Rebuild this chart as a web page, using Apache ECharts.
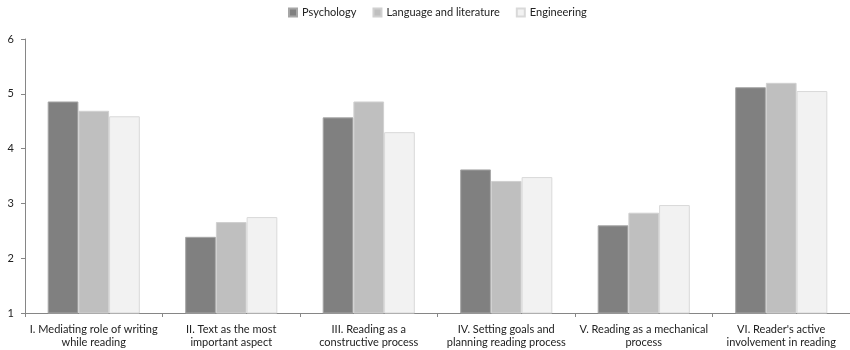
<!DOCTYPE html>
<html>
<head>
<meta charset="utf-8">
<script src="https://cdn.jsdelivr.net/npm/echarts@6/dist/echarts.min.js"></script>
<style>
  html, body { margin: 0; padding: 0; background: #fff; }
  #chart { width: 850px; height: 350px; }
</style>
</head>
<body>
<div id="chart"></div>
<script>
// Mean scores per reading-conception factor, by field of study
const categories = [
  "I. Mediating role of writing\nwhile reading",
  "II. Text as the most\nimportant aspect",
  "III. Reading as a\nconstructive process",
  "IV. Setting goals and\nplanning reading process",
  "V. Reading as a mechanical\nprocess",
  "VI. Reader's active\ninvolvement in reading"
];
const psychology = [4.86, 2.39, 4.57, 3.62, 2.60, 5.12];
const languageLiterature = [4.69, 2.66, 4.86, 3.41, 2.83, 5.20];
const engineering = [4.59, 2.75, 4.30, 3.48, 2.97, 5.05];
const seriesNames = ["Psychology", "Language and literature", "Engineering"];

const font = "Lato, 'Open Sans', sans-serif";
const axisGray = "#868686";

const chart = echarts.init(document.getElementById("chart"), null, { renderer: "canvas" });
chart.setOption({
  animation: false,
  textStyle: { fontFamily: font },
  legend: {
    top: 5,
    left: 288,
    padding: [2, 0, 2, 0],
    itemWidth: 8,
    itemHeight: 8,
    itemGap: 16,
    icon: "rect",
    textStyle: { fontSize: 11, color: "#222", fontFamily: font }
  },
  grid: { left: 25, right: 0, top: 39, bottom: 37, containLabel: false },
  xAxis: {
    type: "category",
    data: categories,
    axisLine: { lineStyle: { color: axisGray } },
    axisTick: { show: true, alignWithLabel: false, length: 4, lineStyle: { color: axisGray } },
    axisLabel: {
      interval: 0,
      fontSize: 11,
      color: "#222",
      lineHeight: 13,
      margin: 10,
      fontFamily: font
    },
    splitLine: { show: false }
  },
  yAxis: {
    type: "value",
    min: 1,
    max: 6,
    interval: 1,
    axisLine: { show: true, lineStyle: { color: axisGray } },
    axisTick: { show: true, length: 4, lineStyle: { color: axisGray } },
    axisLabel: { fontSize: 11, color: "#222", margin: 11, fontFamily: font },
    splitLine: { show: false }
  },
  series: [
    {
      name: seriesNames[0], type: "bar", data: psychology,
      barGap: "0%", barCategoryGap: "33%",
      itemStyle: { color: "#808080", borderColor: "#a6a6a6", borderWidth: 1 }
    },
    {
      name: seriesNames[1], type: "bar", data: languageLiterature,
      barGap: "0%", barCategoryGap: "33%",
      itemStyle: { color: "#bfbfbf", borderColor: "#d0d0d0", borderWidth: 1 }
    },
    {
      name: seriesNames[2], type: "bar", data: engineering,
      barGap: "0%", barCategoryGap: "33%",
      itemStyle: { color: "#f2f2f2", borderColor: "#d9d9d9", borderWidth: 1 }
    }
  ]
});
</script>
</body>
</html>
